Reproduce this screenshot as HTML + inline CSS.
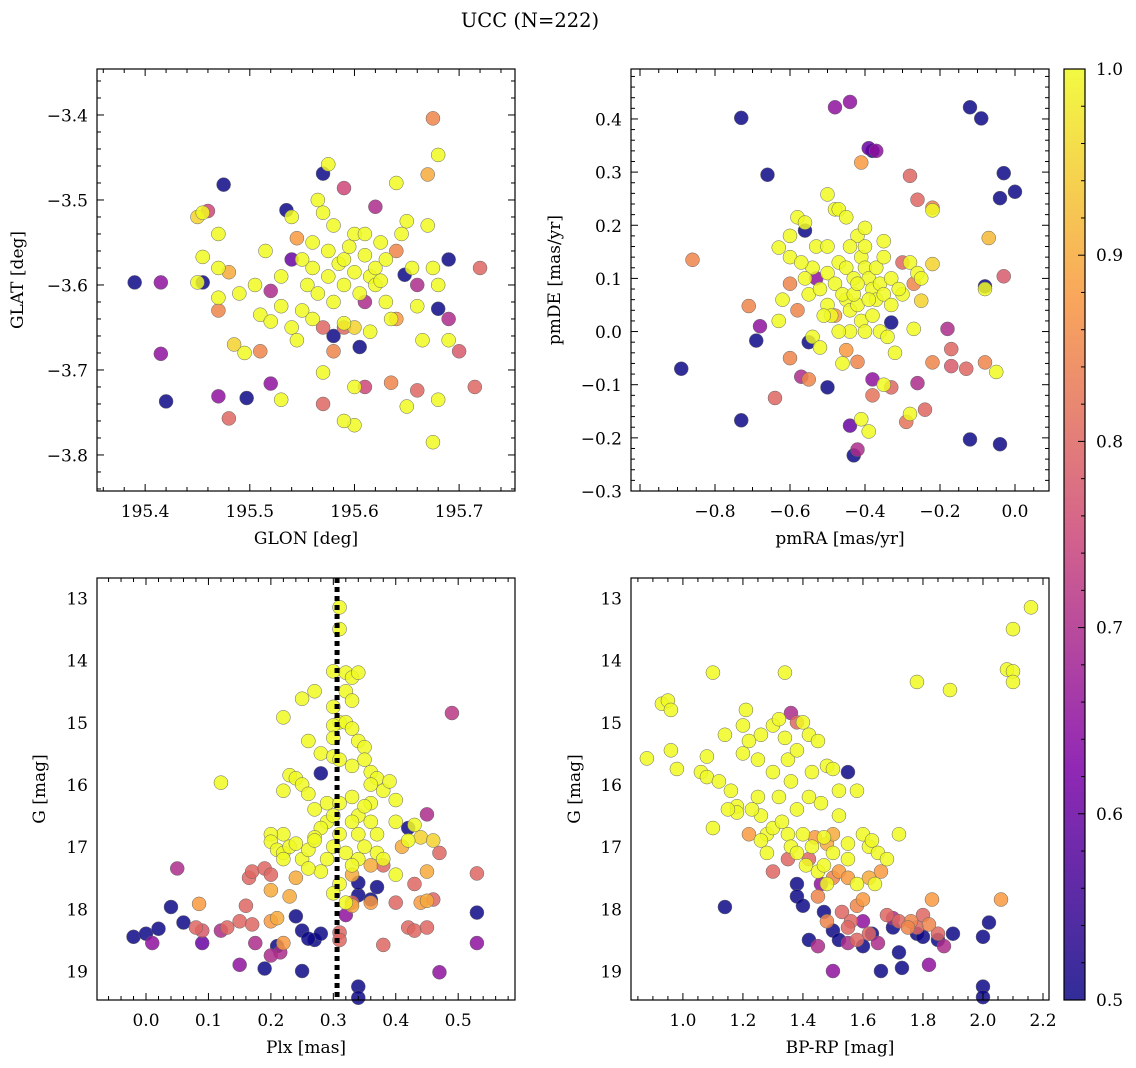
<!DOCTYPE html>
<html><head><meta charset="utf-8"><style>
html,body{margin:0;padding:0;background:#fff}
svg{display:block;font-family:"DejaVu Serif","Liberation Serif",serif}
</style></head><body>
<svg id="fig" width="1136" height="1068" viewBox="0 0 1136 1068" xmlns="http://www.w3.org/2000/svg">
<defs><linearGradient id="cmap" x1="0" y1="1" x2="0" y2="0">
<stop offset="0" stop-color="#0d0887"/><stop offset="0.25" stop-color="#7e03a8"/><stop offset="0.5" stop-color="#cc4778"/><stop offset="0.75" stop-color="#f89540"/><stop offset="1" stop-color="#f0f921"/></linearGradient></defs>
<text x="530" y="27" font-size="19.5" text-anchor="middle">UCC (N=222)</text>
</svg>
<script>
const p1 = [[195.39,-3.597,.5],[195.455,-3.597,.5],[195.475,-3.482,.5],[195.42,-3.737,.5],[195.497,-3.733,.5],[195.535,-3.512,.5],[195.57,-3.469,.5],[195.648,-3.588,.5],[195.68,-3.628,.5],[195.69,-3.57,.5],[195.605,-3.673,.5],[195.58,-3.66,.5],
[195.415,-3.597,.65],[195.415,-3.681,.65],[195.47,-3.731,.65],[195.52,-3.716,.65],[195.52,-3.607,.7],[195.62,-3.508,.7],[195.59,-3.486,.75],[195.46,-3.513,.75],[195.69,-3.64,.7],[195.54,-3.57,.6],[195.66,-3.6,.7],[195.61,-3.62,.7],
[195.675,-3.404,.85],[195.67,-3.47,.9],[195.48,-3.757,.8],[195.66,-3.724,.8],[195.635,-3.715,.85],[195.57,-3.74,.8],[195.7,-3.678,.78],[195.715,-3.72,.8],[195.58,-3.678,.85],[195.57,-3.65,.8],[195.47,-3.63,.85],[195.48,-3.585,.9],[195.51,-3.678,.85],[195.61,-3.72,.75],[195.59,-3.65,.8],[195.72,-3.58,.8],[195.64,-3.56,.85],[195.64,-3.64,.88],[195.545,-3.545,.88],
[195.68,-3.447,1],[195.575,-3.458,1],[195.455,-3.515,1],[195.45,-3.52,.95],[195.455,-3.567,1],[195.47,-3.54,1],[195.45,-3.597,1],[195.47,-3.615,1],[195.47,-3.58,1],[195.49,-3.61,1],[195.485,-3.67,.95],[195.495,-3.68,1],[195.505,-3.6,1],[195.51,-3.635,1],[195.515,-3.56,1],[195.52,-3.643,1],[195.53,-3.59,1],[195.54,-3.52,1],[195.54,-3.65,1],[195.545,-3.665,1],[195.55,-3.63,1],[195.555,-3.6,1],[195.56,-3.58,1],[195.56,-3.55,1],[195.565,-3.5,1],[195.57,-3.515,1],[195.575,-3.56,1],[195.575,-3.59,1],[195.58,-3.53,1],[195.58,-3.62,1],[195.585,-3.575,1],[195.59,-3.57,1],[195.59,-3.6,1],[195.595,-3.555,1],[195.6,-3.585,1],[195.6,-3.54,1],[195.6,-3.765,1],[195.605,-3.61,1],[195.61,-3.565,1],[195.615,-3.59,1],[195.62,-3.6,1],[195.62,-3.58,1],[195.625,-3.55,1],[195.63,-3.57,1],[195.63,-3.62,1],[195.635,-3.64,1],[195.64,-3.48,1],[195.645,-3.54,1],[195.65,-3.525,1],[195.655,-3.58,1],[195.66,-3.625,1],[195.665,-3.665,1],[195.67,-3.53,1],[195.675,-3.58,1],[195.68,-3.6,1],[195.68,-3.735,1],[195.675,-3.785,1],[195.59,-3.76,1],[195.53,-3.735,1],[195.57,-3.703,1],[195.6,-3.72,1],[195.65,-3.743,1],[195.69,-3.665,1],[195.615,-3.655,1],[195.625,-3.595,1],[195.55,-3.57,1],[195.565,-3.61,1],[195.61,-3.54,1],[195.59,-3.645,1],[195.53,-3.625,1],[195.56,-3.64,1],[195.6,-3.65,.95]];
const p2 = [[-.73,.402,.5],[-.66,.295,.5],[-.89,-.07,.5],[-.73,-.167,.5],[-.5,-.105,.5],[-.43,-.233,.5],[-.12,.422,.5],[-.09,.401,.5],[-.03,.298,.5],[0,.263,.5],[-.04,.251,.5],[-.08,.085,.5],[-.12,-.203,.5],[-.04,-.212,.5],[-.56,.19,.5],[-.55,-.02,.5],[-.33,.017,.5],[-.69,-.017,.5],[-.38,.34,.5],
[-.48,.422,.65],[-.44,.432,.65],[-.39,.345,.6],[-.37,.34,.65],[-.68,.01,.65],[-.42,-.222,.7],[-.44,-.177,.6],[-.38,-.09,.65],[-.26,-.097,.7],[-.57,-.085,.7],[-.18,.005,.7],[-.53,.1,.65],
[-.86,.135,.85],[-.41,.318,.88],[-.28,.293,.8],[-.26,.248,.8],[-.22,.233,.85],[-.03,.104,.78],[-.64,-.125,.8],[-.29,-.17,.82],[-.24,-.147,.8],[-.13,-.07,.8],[-.17,-.065,.78],[-.17,-.033,.8],[-.22,-.058,.85],[-.08,-.058,.85],[-.38,-.12,.82],[-.33,-.105,.8],[-.42,-.057,.85],[-.45,-.035,.88],[-.58,.04,.85],[-.6,.09,.85],[-.48,.03,.88],[-.27,.09,.85],[-.3,.13,.8],[-.6,-.05,.85],[-.71,.048,.85],[-.55,-.09,.85],
[-.07,.176,.92],[-.22,.228,1],[-.05,-.076,1],[-.08,.08,1],[-.22,.127,.95],[-.25,.058,.95],[-.27,.005,1],[-.28,-.155,1],[-.32,-.04,1],[-.35,-.1,1],[-.41,-.165,1],[-.39,-.188,1],[-.44,0,1],[-.5,.258,1],[-.48,.23,1],[-.47,.23,1],[-.45,.215,1],[-.42,.18,1],[-.4,.195,1],[-.58,.215,1],[-.56,.205,1],[-.6,.18,1],[-.63,.158,1],[-.6,.14,1],[-.53,.16,1],[-.5,.16,1],[-.47,.13,1],[-.45,.12,1],[-.43,.1,1],[-.41,.14,1],[-.4,.12,1],[-.39,.1,1],[-.38,.08,1],[-.37,.06,1],[-.36,.09,1],[-.35,.07,1],[-.33,.1,1],[-.3,.07,1],[-.28,.13,1],[-.26,.11,1],[-.62,.06,1],[-.55,.07,1],[-.52,.08,1],[-.5,.05,1],[-.49,.03,1],[-.47,0,1],[-.45,.06,1],[-.44,.04,1],[-.42,.05,1],[-.41,.02,1],[-.4,0,1],[-.38,.03,1],[-.36,0,1],[-.34,-.01,1],[-.5,.11,1],[-.48,.09,1],[-.46,.07,1],[-.43,.07,1],[-.42,.09,1],[-.39,.06,1],[-.37,.12,1],[-.35,.14,1],[-.33,.05,1],[-.54,.12,1],[-.56,.1,1],[-.51,.03,1],[-.63,.02,1],[-.57,.13,1],[-.46,-.06,1],[-.35,.17,1],[-.31,.08,1],[-.25,.1,1],[-.4,.16,1],[-.44,.16,1],[-.54,-.01,1],[-.52,-.03,1]];
const p3 = [[-.02,18.45,.5],[0,18.4,.5],[.02,18.32,.5],[.04,17.97,.5],[.06,18.22,.5],[.19,18.96,.5],[.24,18.12,.5],[.25,18.35,.5],[.25,19,.5],[.27,18.5,.5],[.28,18.4,.5],[.28,15.82,.5],[.34,19.25,.5],[.34,19.43,.5],[.34,17.78,.5],[.36,17.85,.5],[.37,17.65,.5],[.34,17.58,.5],[.42,16.7,.5],[.53,18.06,.5],[.21,18.6,.5],[.26,18.48,.5],
[.05,17.35,.7],[.01,18.55,.65],[.09,18.55,.6],[.15,18.9,.65],[.175,18.55,.7],[.215,18.7,.7],[.47,19.02,.65],[.45,16.48,.7],[.49,14.85,.72],[.53,18.55,.65],[.2,18.75,.7],[.12,18.35,.7],[.32,18.1,.65],
[.08,18.3,.8],[.09,18.35,.78],[.13,18.3,.8],[.15,18.2,.8],[.16,17.95,.8],[.165,17.5,.8],[.17,17.4,.8],[.17,18.25,.8],[.19,17.35,.8],[.2,17.45,.8],[.31,18.38,.8],[.31,18.5,.8],[.33,17.9,.8],[.38,18.58,.8],[.42,18.3,.8],[.43,18.35,.8],[.45,18.3,.8],[.47,17.1,.8],[.53,17.43,.8],[.4,17.9,.8],[.43,17.6,.8],[.46,17.85,.8],[.38,17.3,.8],
[.085,17.92,.88],[.2,17.7,.9],[.2,18.2,.88],[.21,18.15,.9],[.22,18.55,.88],[.23,17.8,.9],[.24,17.5,.9],[.33,17.95,.9],[.33,17.45,.9],[.36,17.9,.88],[.44,17.9,.88],[.45,17.4,.9],[.45,17.87,.9],[.36,17.3,.9],[.41,17,.9],
[.31,13.15,1],[.31,13.5,1],[.3,14.18,1],[.32,14.2,1],[.33,14.28,1],[.34,14.2,1],[.32,14.5,1],[.33,14.65,1],[.25,14.62,1],[.27,14.5,1],[.22,14.92,1],[.3,14.75,1],[.31,15,1],[.3,15.05,1],[.32,15,1],[.33,15.1,1],[.34,15.3,1],[.35,15.4,1],[.3,15.25,1],[.26,15.3,1],[.28,15.5,1],[.3,15.55,1],[.31,15.6,1],[.33,15.7,1],[.35,15.6,1],[.36,15.8,1],[.37,15.9,1],[.23,15.85,1],[.24,15.9,1],[.25,16,1],[.26,16.15,1],[.27,16.4,1],[.29,16.3,1],[.31,16.3,1],[.33,16.2,1],[.36,16,1],[.38,16.1,1],[.39,15.95,1],[.36,16.3,1],[.34,16.5,1],[.33,16.6,1],[.31,16.8,1],[.29,16.6,1],[.28,16.7,1],[.27,16.85,1],[.22,16.8,1],[.2,16.8,1],[.2,16.92,1],[.21,17.05,1],[.22,17.1,1],[.23,17,1],[.25,17.2,1],[.26,17.05,1],[.27,16.9,1],[.3,17,1],[.32,17.1,1],[.34,17.2,1],[.35,17,1],[.37,17.1,1],[.38,17.2,1],[.36,16.6,1],[.4,16.6,1],[.42,16.9,1],[.44,16.85,.95],[.46,16.9,.95],[.4,17.45,1],[.12,15.97,1],[.22,16.1,1],[.28,17.4,1],[.31,17.6,1],[.3,17.75,1],[.32,17.9,1],[.33,17.3,1],[.22,17.2,1],[.26,17.35,1],[.37,16.8,1],[.43,16.65,1],[.4,16.25,1],[.34,16.8,1],[.35,16.35,1],[.3,16.5,1],[.24,16.95,1],[.29,17.2,1]];
const p4 = [[1.14,17.97,.5],[1.38,17.6,.5],[1.38,17.8,.5],[1.4,17.95,.5],[1.42,18.5,.5],[1.5,18.35,.5],[1.55,15.8,.5],[1.6,18.6,.5],[1.63,18.4,.5],[1.66,19,.5],[1.7,18.3,.5],[1.72,18.7,.5],[1.73,18.95,.5],[1.78,18.4,.5],[1.8,18.45,.5],[1.85,18.5,.5],[1.9,18.4,.5],[2,18.45,.5],[2,19.25,.5],[2,19.42,.5],[2.02,18.22,.5],[1.47,18.05,.5],[1.52,18.5,.5],
[1.5,19,.65],[1.36,14.85,.7],[1.6,18.2,.65],[1.65,18.55,.7],[1.82,18.9,.65],[1.87,18.6,.7],[1.7,18.15,.7],[1.55,18.55,.7],[1.45,18.6,.7],[1.46,17.6,.65],
[1.22,16.8,.88],[1.3,17.4,.8],[1.35,17.2,.8],[1.38,15,.8],[1.44,16.85,.88],[1.48,16.95,.9],[1.5,17.5,.85],[1.52,17.4,.88],[1.53,18.05,.8],[1.55,17.5,.88],[1.56,18.2,.8],[1.58,17.95,.85],[1.6,17.85,.88],[1.62,17.5,.9],[1.66,17.4,.88],[1.68,18.1,.8],[1.72,18.2,.8],[1.76,18.2,.85],[1.78,18.3,.8],[1.8,18.1,.8],[1.82,18.25,.85],[1.83,17.85,.88],[1.85,18.4,.8],[2.06,17.85,.88],[1.5,16.8,.9],[1.42,17.2,.8],[1.45,17.8,.85],[1.55,18.3,.8],[1.62,18.4,.8],[1.75,18.3,.85],[1.48,18.2,.85],[1.58,18.5,.8],
[2.16,13.15,1],[2.1,13.5,1],[2.08,14.15,1],[2.1,14.18,1],[2.1,14.35,1],[1.89,14.48,1],[1.78,14.35,1],[.93,14.7,1],[.95,14.65,1],[.96,14.8,1],[.96,15.45,1],[.88,15.58,1],[.98,15.75,1],[1.08,15.55,1],[1.06,15.8,1],[1.08,15.88,1],[1.1,14.2,1],[1.34,14.2,1],[1.14,15.2,1],[1.12,15.95,1],[1.16,16.1,1],[1.18,16.35,1],[1.18,16.45,1],[1.2,15.5,1],[1.21,14.8,1],[1.2,15.05,1],[1.22,15.3,1],[1.25,15.6,1],[1.25,16.2,1],[1.26,16.5,1],[1.28,16.8,1],[1.3,15.05,1],[1.32,14.95,1],[1.34,15.25,1],[1.35,15.6,1],[1.36,15.95,1],[1.38,16.4,1],[1.4,15,1],[1.42,15.2,1],[1.43,15.8,1],[1.45,15.3,1],[1.46,16.3,1],[1.48,15.7,1],[1.5,15.75,1],[1.52,16.1,1],[1.42,16.2,1],[1.32,16.2,1],[1.3,16.7,1],[1.33,16.6,1],[1.35,16.8,1],[1.36,17,1],[1.4,16.8,1],[1.38,17.1,1],[1.41,17.3,1],[1.43,17,1],[1.45,17.4,1],[1.47,17.3,1],[1.5,17.1,1],[1.52,16.5,1],[1.55,16.95,1],[1.58,16.1,1],[1.6,16.8,1],[1.62,17,1],[1.63,16.9,1],[1.65,17.1,1],[1.68,17.2,1],[1.72,16.8,1],[1.55,17.2,1],[1.58,17.6,1],[1.48,17.6,1],[1.26,16.9,1],[1.23,16.4,1],[1.15,16.4,1],[1.1,16.7,1],[1.28,17.1,1],[1.47,16.85,1],[1.64,17.6,1],[1.3,15.8,1],[1.26,15.2,1],[1.38,15.45,1]];
const plxLine = 0.306;
const cbTicks = [0.5,0.6,0.7,0.8,0.9,1.0];

const NS='http://www.w3.org/2000/svg', svg=document.getElementById('fig');
function mk(tag,at,parent){const e=document.createElementNS(NS,tag);for(const k in at)e.setAttribute(k,at[k]);(parent||svg).appendChild(e);return e;}
const stops=[[0,[13,8,135]],[.25,[126,3,168]],[.5,[204,71,120]],[.75,[248,149,64]],[1,[240,249,33]]];
function cmap(v){let t=Math.max(0,Math.min(1,(v-.5)/.5));for(let i=1;i<stops.length;i++){if(t<=stops[i][0]){const a=stops[i-1],b=stops[i],f=(t-a[0])/(b[0]-a[0]);return 'rgb('+a[1].map((c,j)=>Math.round(c+(b[1][j]-c)*f)).join(',')+')';}}return 'rgb(240,249,33)';}

function panel(o){
  const g=mk('g',{});
  
  
  const sx=v=>o.x0+(v-o.xd[0])/(o.xd[1]-o.xd[0])*(o.x1-o.x0);
  const sy=v=>o.y1-(v-o.yd[0])/(o.yd[1]-o.yd[0])*(o.y1-o.y0);
  const pts=o.data.slice().sort((a,b)=>a[2]-b[2]);
  pts.forEach(d=>{const c=mk('circle',{cx:sx(d[0]),cy:sy(d[1]),r:7,fill:cmap(d[2]),'fill-opacity':.85,stroke:'#666','stroke-width':.5},g);
    
    });
  if(o.vline!==undefined){const l=mk('line',{x1:sx(o.vline),x2:sx(o.vline),y1:o.y0,y2:o.y1,stroke:'#000','stroke-width':5,'stroke-dasharray':'5 4'},g);
    
    }
  const fr=mk('rect',{x:o.x0,y:o.y0,width:o.x1-o.x0,height:o.y1-o.y0,fill:'none',stroke:'#000','stroke-width':1.2},g);
  
  
  const ax=mk('g',{stroke:'#000','stroke-width':1},g);
  
  
  const e=1e-9;
  for(let v=Math.ceil(o.xd[0]/o.xm-e)*o.xm;v<=o.xd[1]+e;v+=o.xm){const x=sx(v);const maj=Math.abs(v/o.xM-Math.round(v/o.xM))<1e-6;const L=maj?7:4;
    mk('line',{x1:x,x2:x,y1:o.y1,y2:o.y1-L},ax);mk('line',{x1:x,x2:x,y1:o.y0,y2:o.y0+L},ax);}
  for(let v=Math.ceil(o.yd[0]/o.ym-e)*o.ym;v<=o.yd[1]+e;v+=o.ym){const y=sy(v);const maj=Math.abs(v/o.yM-Math.round(v/o.yM))<1e-6;const L=maj?7:4;
    mk('line',{x1:o.x0,x2:o.x0+L,y1:y,y2:y},ax);mk('line',{x1:o.x1,x2:o.x1-L,y1:y,y2:y},ax);}
  o.xt.forEach(v=>{const t=mk('text',{x:sx(v),y:o.y1+26,'font-size':17,'text-anchor':'middle'},g);t.textContent=v.toFixed(o.xf).replace('-','\u2212');
    
    });
  o.yt.forEach(v=>{const t=mk('text',{x:o.x0-9,y:sy(v)+6.5,'font-size':17,'text-anchor':'end'},g);t.textContent=v.toFixed(o.yf).replace('-','\u2212');
    
    });
  const xl=mk('text',{x:(o.x0+o.x1)/2,y:o.y1+53,'font-size':17,'text-anchor':'middle'},g);xl.textContent=o.xl;
  
  
  const yl=mk('text',{x:0,y:0,'font-size':17,'text-anchor':'middle',transform:`translate(${o.ylx},${(o.y0+o.y1)/2}) rotate(-90)`},g);yl.textContent=o.yl;
  
  
}
panel({name:'glon-glat-panel',data:p1,x0:97,x1:515,y0:69,y1:491,xd:[195.354,195.7534],yd:[-3.8424,-3.3459],xm:.02,xM:.1,ym:.02,yM:.1,xt:[195.4,195.5,195.6,195.7],yt:[-3.4,-3.5,-3.6,-3.7,-3.8],xf:1,yf:1,xl:'GLON [deg]',yl:'GLAT [deg]',ylx:23});
panel({name:'proper-motion-panel',data:p2,x0:631,x1:1049,y0:69,y1:491,xd:[-1.024,0.0907],yd:[-0.3,0.494],xm:.05,xM:.2,ym:.02,yM:.1,xt:[-.8,-.6,-.4,-.2,0],yt:[-.3,-.2,-.1,0,.1,.2,.3,.4],xf:1,yf:1,xl:'pmRA [mas/yr]',yl:'pmDE [mas/yr]',ylx:560});
panel({name:'plx-g-panel',data:p3,x0:97,x1:515,y0:578,y1:1000,xd:[-0.0785,0.591],yd:[19.466,12.678],xm:.02,xM:.1,ym:.2,yM:1,xt:[0,.1,.2,.3,.4,.5],yt:[13,14,15,16,17,18,19],xf:1,yf:0,xl:'Plx [mas]',yl:'G [mag]',ylx:45,vline:plxLine});
panel({name:'color-magnitude-panel',data:p4,x0:631,x1:1049,y0:578,y1:1000,xd:[0.827,2.22],yd:[19.466,12.678],xm:.05,xM:.2,ym:.2,yM:1,xt:[1,1.2,1.4,1.6,1.8,2,2.2],yt:[13,14,15,16,17,18,19],xf:1,yf:0,xl:'BP-RP [mag]',yl:'G [mag]',ylx:580});

const cb=mk('g',{});


const cby=v=>1000-(v-.5)/.5*931;
mk('rect',{x:1064,y:69,width:21,height:931,fill:'url(#cmap)','fill-opacity':.85,stroke:'#000','stroke-width':1.2},cb);
for(let v=.5;v<=1.0001;v+=.02){const y=cby(v);const maj=Math.abs(v*10-Math.round(v*10))<1e-6;mk('line',{x1:1085,x2:1085-(maj?7:4),y1:y,y2:y,stroke:'#000'},cb);}
cbTicks.forEach(v=>{const t=mk('text',{x:1096,y:cby(v)+6,'font-size':17},cb);t.textContent=v.toFixed(1);
  
  });
</script>
</body></html>
